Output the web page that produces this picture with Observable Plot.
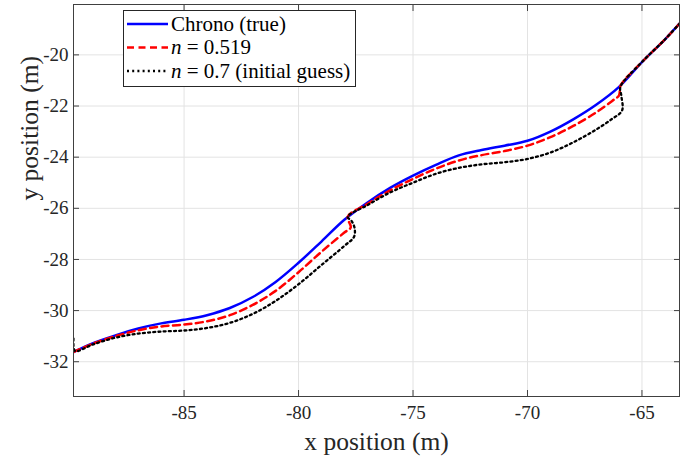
<!DOCTYPE html>
<html><head><meta charset="utf-8">
<script src="https://cdn.jsdelivr.net/npm/d3@7"></script>
<script src="https://cdn.jsdelivr.net/npm/@observablehq/plot@0.6"></script>
<style>
body{margin:0;background:#fff;}
#wrap{position:relative;width:699px;height:457px;}
#wrap svg.legend{position:absolute;left:0;top:0;}
</style></head><body><div id="wrap"></div>
<script>
const xTicks = [-85, -80, -75, -70, -65];
const yTicks = [-32, -30, -28, -26, -24, -22, -20];
const xDomain = [-89.83, -63.36];
const yDomain = [-33.36, -18.03];

const trueX = [-89.83,-89,-88,-87,-86,-85,-84,-83,-82,-81,-80,-79,-78,-77,-76,-75,-74,-73,-72,-71,-70,-69,-68,-67,-66,-65,-64,-63.36];
const trueY = [-31.62,-31.28,-30.97,-30.70,-30.50,-30.36,-30.18,-29.90,-29.47,-28.88,-28.13,-27.30,-26.45,-25.78,-25.20,-24.72,-24.30,-23.93,-23.72,-23.55,-23.36,-23.00,-22.52,-21.95,-21.25,-20.28,-19.40,-18.78];

const fitX = [-89.83,-89,-88,-87,-86,-85,-84,-83,-82,-81,-80,-79,-78,-77.72,-77.85,-77,-76,-75,-74,-73,-72,-71,-70,-69,-68,-67,-66.3,-66.0,-65.93,-65,-64,-63.36];
const fitY = [-31.62,-31.30,-31.00,-30.77,-30.62,-30.55,-30.42,-30.18,-29.78,-29.23,-28.50,-27.70,-26.95,-26.75,-26.33,-25.83,-25.30,-24.85,-24.45,-24.13,-23.92,-23.76,-23.55,-23.22,-22.78,-22.25,-21.80,-21.58,-21.20,-20.28,-19.40,-18.78];

const guessX = [-89.83,-89.76,-89,-88,-87,-86,-85,-84,-83,-82,-81,-80,-79,-78,-77.58,-77.55,-77.68,-77.85,-77,-76,-75,-74,-73,-72,-71,-70,-69,-68,-67,-66.3,-65.87,-65.9,-65.94,-65,-64,-63.36];
const guessY = [-31.10,-31.58,-31.33,-31.06,-30.90,-30.82,-30.78,-30.68,-30.48,-30.13,-29.62,-28.97,-28.22,-27.47,-27.12,-26.78,-26.50,-26.33,-25.88,-25.38,-25.00,-24.65,-24.42,-24.28,-24.20,-24.07,-23.82,-23.42,-22.92,-22.50,-22.18,-21.60,-21.25,-20.28,-19.40,-18.78];

const seriesNames = [["Chrono (true)"], ["n", " = 0.519"], ["n", " = 0.7 (initial guess)"]];
const seriesColors = ["#0000ff", "#ff0000", "#000000"];
const seriesDash = [null, "7,4.5", "2,3.2"];
const seriesWidth = [2.5, 2.5, 2.3];

const toRows = (xs, ys) => xs.map((x, i) => ({x, y: ys[i]}));
const series = [toRows(trueX, trueY), toRows(fitX, fitY), toRows(guessX, guessY)];

const font = '"Liberation Serif", "DejaVu Serif", serif';
const axisColor = "#404040";
const fmt = d => String(d);

const chart = Plot.plot({
  width: 699, height: 457,
  marginLeft: 73, marginRight: 20, marginTop: 4, marginBottom: 61,
  style: {fontFamily: font, fontSize: "19px", background: "#fff", color: "#262626"},
  x: {domain: xDomain},
  y: {domain: yDomain},
  marks: [
    Plot.gridX(xTicks, {stroke: "#e3e3e3", strokeOpacity: 1, strokeWidth: 1}),
    Plot.gridY(yTicks, {stroke: "#e3e3e3", strokeOpacity: 1, strokeWidth: 1}),
    ...series.map((rows, i) => Plot.line(rows, {
      x: "x", y: "y", stroke: seriesColors[i], strokeWidth: seriesWidth[i],
      strokeDasharray: seriesDash[i], curve: "catmull-rom", clip: true
    })),
    Plot.frame({stroke: axisColor, strokeWidth: 1}),
    Plot.axisX(xTicks, {anchor: "bottom", tickSize: -6, fill: "none", stroke: axisColor, label: null}),
    Plot.axisX(xTicks, {anchor: "top", tickSize: -6, fill: "none", stroke: axisColor, label: null}),
    Plot.axisY(yTicks, {anchor: "left", tickSize: -6, fill: "none", stroke: axisColor, label: null}),
    Plot.axisY(yTicks, {anchor: "right", tickSize: -6, fill: "none", stroke: axisColor, label: null}),
    Plot.axisX(xTicks, {anchor: "bottom", tickSize: 0, tickPadding: 9, tickFormat: fmt, fontSize: 19, fontFamily: font, fill: "#262626", label: null}),
    Plot.axisY(yTicks, {anchor: "left", tickSize: 0, tickPadding: 5, tickFormat: fmt, fontSize: 19, fontFamily: font, fill: "#262626", label: null}),
    Plot.text(["x position (m)"], {frameAnchor: "bottom", dy: 53, lineAnchor: "bottom", fontSize: 25.5, fontFamily: font, fill: "#262626"}),
    Plot.text(["y position (m)"], {frameAnchor: "left", dx: -54, rotate: -90, lineAnchor: "top", fontSize: 25.5, fontFamily: font, fill: "#262626"})
  ]
});

const wrap = document.getElementById("wrap");
wrap.appendChild(chart);

// legend overlay
const ns = "http://www.w3.org/2000/svg";
const lg = document.createElementNS(ns, "svg");
lg.setAttribute("class", "legend");
lg.setAttribute("width", 699); lg.setAttribute("height", 457);
const box = document.createElementNS(ns, "rect");
Object.entries({x: 123.5, y: 10.5, width: 232, height: 76, fill: "#fff", stroke: "#262626", "stroke-width": 1})
  .forEach(([k, v]) => box.setAttribute(k, v));
lg.appendChild(box);
seriesNames.forEach((parts, i) => {
  const base = 30.5 + i * 23.5;
  const ln = document.createElementNS(ns, "line");
  Object.entries({x1: 127, x2: 168, y1: base - 6.5, y2: base - 6.5, stroke: seriesColors[i], "stroke-width": seriesWidth[i]})
    .forEach(([k, v]) => ln.setAttribute(k, v));
  if (seriesDash[i]) ln.setAttribute("stroke-dasharray", seriesDash[i]);
  lg.appendChild(ln);
  const t = document.createElementNS(ns, "text");
  t.setAttribute("x", 171); t.setAttribute("y", base);
  t.style.fontFamily = font; t.style.fontSize = "21px"; t.setAttribute("fill", "#000");
  parts.forEach((p, j) => {
    const s = document.createElementNS(ns, "tspan");
    s.textContent = p;
    if (parts.length > 1 && j === 0) s.setAttribute("font-style", "italic");
    t.appendChild(s);
  });
  t.style.whiteSpace = "pre";
  lg.appendChild(t);
});
wrap.appendChild(lg);
</script></body></html>
